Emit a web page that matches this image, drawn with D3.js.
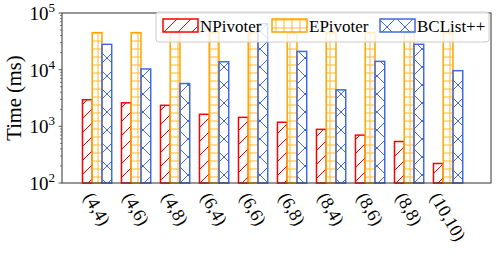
<!DOCTYPE html>
<html>
<head>
<meta charset="utf-8">
<script src="https://cdn.jsdelivr.net/npm/d3@7"></script>
<style>
  body { margin: 0; background: #fff; }
  svg { display: block; font-family: "Liberation Serif", "DejaVu Serif", serif; }
</style>
</head>
<body>
<figure id="chart" style="margin:0"></figure>
<script>
const categories = ['(4,4)', '(4,6)', '(4,8)', '(6,4)', '(6,6)', '(6,8)', '(8,4)', '(8,6)', '(8,8)', '(10,10)'];
const seriesNames = ['NPivoter', 'EPivoter', 'BCList++'];
const nPivoter = [2950, 2600, 2350, 1630, 1440, 1180, 885, 700, 540, 221];
const ePivoter = [45000, 45000, 45000, 45000, 45000, 45000, 45000, 45000, 45000, 45000];
const bcList = [28000, 10300, 5700, 13800, 65000, 21000, 4400, 14000, 28000, 9600];
const yTicks = [100, 1000, 10000, 100000];

const dimensions = {
  width: 498,
  height: 254,
  margin: { top: 13, right: 7, bottom: 71, left: 62 },
};
dimensions.boundedWidth = dimensions.width - dimensions.margin.left - dimensions.margin.right;
dimensions.boundedHeight = dimensions.height - dimensions.margin.top - dimensions.margin.bottom;

const colors = ['#ff0000', '#ffa500', '#4169e1'];
const series = [nPivoter, ePivoter, bcList];
const barW = 0.25;

const root = d3.select('figure#chart')
  .append('svg')
  .attr('width', dimensions.width)
  .attr('height', dimensions.height);

// hatch patterns
const defs = root.append('defs');
const p0 = defs.append('pattern').attr('id', 'hatch0').attr('patternUnits', 'userSpaceOnUse')
  .attr('width', 14).attr('height', 14);
p0.append('path').attr('d', 'M0,14 L14,0 M-3,3 L3,-3 M11,17 L17,11')
  .attr('stroke', colors[0]).attr('stroke-width', 1);
const p1 = defs.append('pattern').attr('id', 'hatch1').attr('patternUnits', 'userSpaceOnUse')
  .attr('width', 8).attr('height', 8);
p1.append('path').attr('d', 'M0,4 H8 M4,0 V8')
  .attr('stroke', colors[1]).attr('stroke-width', 1).attr('opacity', 0.8);
const p2 = defs.append('pattern').attr('id', 'hatch2').attr('patternUnits', 'userSpaceOnUse')
  .attr('width', 18).attr('height', 18);
p2.append('path').attr('d', 'M0,18 L18,0 M0,0 L18,18 M-3,3 L3,-3 M15,21 L21,15 M-3,15 L3,21 M15,-3 L21,3')
  .attr('stroke', colors[2]).attr('stroke-width', 1);

const svg = root.append('g')
  .attr('transform', `translate(${dimensions.margin.left}, ${dimensions.margin.top})`);

const xScale = d3.scaleLinear().domain([-0.9, 10.1]).range([0, dimensions.boundedWidth]);
const yScale = d3.scaleLog().domain([100, 100000]).range([dimensions.boundedHeight, 0]);

series.forEach(function(vals, s) {
  svg.selectAll('.bar' + s)
    .data(vals)
    .enter()
    .append('rect')
    .attr('class', 'bar' + s)
    .attr('x', (d, i) => xScale(i + (s - 1) * barW - barW / 2))
    .attr('width', xScale(barW) - xScale(0))
    .attr('y', d => yScale(d))
    .attr('height', d => yScale(100) - yScale(d))
    .attr('fill', 'url(#hatch' + s + ')')
    .attr('stroke', colors[s])
    .attr('stroke-width', 1.5);
});

// frame
svg.append('rect')
  .attr('width', dimensions.boundedWidth)
  .attr('height', dimensions.boundedHeight)
  .attr('fill', 'none')
  .attr('stroke', '#333')
  .attr('stroke-width', 1);

// y axis
const minor = [];
for (let e = 2; e < 5; e++) {
  for (let k = 2; k < 10; k++) minor.push(k * Math.pow(10, e));
}
svg.selectAll('.minor').data(minor).enter().append('line')
  .attr('x1', -2).attr('x2', 0)
  .attr('y1', d => yScale(d)).attr('y2', d => yScale(d))
  .attr('stroke', '#333').attr('stroke-width', 0.6);
svg.selectAll('.major').data(yTicks).enter().append('line')
  .attr('x1', -3.5).attr('x2', 0)
  .attr('y1', d => yScale(d)).attr('y2', d => yScale(d))
  .attr('stroke', '#333').attr('stroke-width', 0.8);
const yLab = svg.selectAll('.ylab').data(yTicks).enter().append('text')
  .attr('x', -7)
  .attr('y', d => yScale(d) + 7)
  .attr('text-anchor', 'end')
  .attr('font-size', 19);
yLab.append('tspan').text('10');
yLab.append('tspan').attr('dy', -8).attr('font-size', 13).text(d => Math.round(Math.log10(d)));

root.append('text')
  .attr('transform', `translate(21, ${dimensions.margin.top + dimensions.boundedHeight / 2}) rotate(-90)`)
  .attr('text-anchor', 'middle')
  .attr('font-size', 20.5)
  .text('Time (ms)');

// x labels, rotated 60 deg, bbox centered on the tick
const xl = svg.selectAll('.xlab').data(categories).enter().append('text')
  .attr('font-size', 18)
  .attr('text-anchor', 'middle')
  .attr('dominant-baseline', 'central')
  .text(d => d);
xl.each(function(d, i) {
  const len = this.getComputedTextLength();
  const a = Math.PI / 3;
  const h = 16;
  const dy = len * Math.sin(a) + h * Math.cos(a);
  const cx = xScale(i);
  const cy = dimensions.boundedHeight + 7 + dy / 2;
  d3.select(this).attr('transform', `translate(${cx},${cy}) rotate(60)`);
});

// legend
const leg = root.append('g');
leg.append('rect')
  .attr('x', 156).attr('y', 12).attr('width', 333).attr('height', 30)
  .attr('rx', 3)
  .attr('fill', 'white').attr('fill-opacity', 0.8)
  .attr('stroke', '#cccccc').attr('stroke-width', 1);
const legX = [163, 272, 380];
seriesNames.forEach(function(name, s) {
  leg.append('rect')
    .attr('x', legX[s]).attr('y', 19).attr('width', 35).attr('height', 13)
    .attr('fill', 'url(#hatch' + s + ')')
    .attr('stroke', colors[s]).attr('stroke-width', 1.5);
  leg.append('text')
    .attr('x', legX[s] + 37).attr('y', 32)
    .attr('font-size', 17)
    .text(name);
});
</script>
</body>
</html>
